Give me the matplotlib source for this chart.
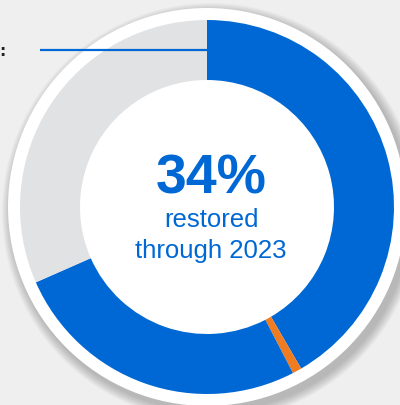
import matplotlib
matplotlib.use("Agg")
import matplotlib.pyplot as plt
from matplotlib.patches import Circle

# Ring segments, clockwise from 12 o'clock (percent of the full circle)
segment_names = ["restored (before)", "marker", "restored (after)", "remaining"]
segment_values = [41.6, 0.8, 26.0, 31.6]
segment_colors = ["#0068d4", "#f07c22", "#0068d4", "#e1e2e4"]

headline = "34%"
caption_lines = ["restored", "through 2023"]

BG = "#efefef"
BLUE = "#0068d4"

fig = plt.figure(figsize=(4.0, 4.05), dpi=100)
fig.patch.set_facecolor(BG)
ax = fig.add_axes([0, 0, 1, 1])
ax.set_facecolor(BG)

# pixel-ish coordinates, origin bottom-left
cx, cy = 207, 198
r_outer, ring_w = 187, 60

# soft shadow behind the white disc
for i in range(10):
    ax.add_patch(Circle((cx + 4, cy - 5), 199 + 10 - i, color="black",
                        alpha=0.025, lw=0, zorder=1))
ax.add_patch(Circle((cx, cy), 199, color="white", lw=0, zorder=2))

wedges, _ = ax.pie(segment_values, colors=segment_colors, startangle=90,
                   counterclock=False, center=(cx, cy), radius=r_outer,
                   wedgeprops=dict(width=ring_w, linewidth=0))
for w in wedges:
    w.set_zorder(3)

# leader line coming in from the left
ax.plot([40, cx], [355, 355], color=BLUE, lw=1.6, zorder=4,
        solid_capstyle="butt")
ax.text(-1, 354, ":", fontsize=11, color="#222222", ha="left", va="center",
        fontweight="bold", zorder=4)

ax.text(211, 212, headline, fontsize=40, fontweight="bold", color=BLUE,
        ha="center", va="baseline", family="Liberation Sans", zorder=5)
for line, base in zip(caption_lines, [178, 147]):
    ax.text(211, base, line, fontsize=18.5, color=BLUE, ha="center",
            va="baseline", family="Liberation Sans", zorder=5)

ax.set_xlim(0, 400)
ax.set_ylim(0, 405)
ax.set_aspect("equal")
ax.axis("off")

fig.savefig("out.png", dpi=100, facecolor=BG)
